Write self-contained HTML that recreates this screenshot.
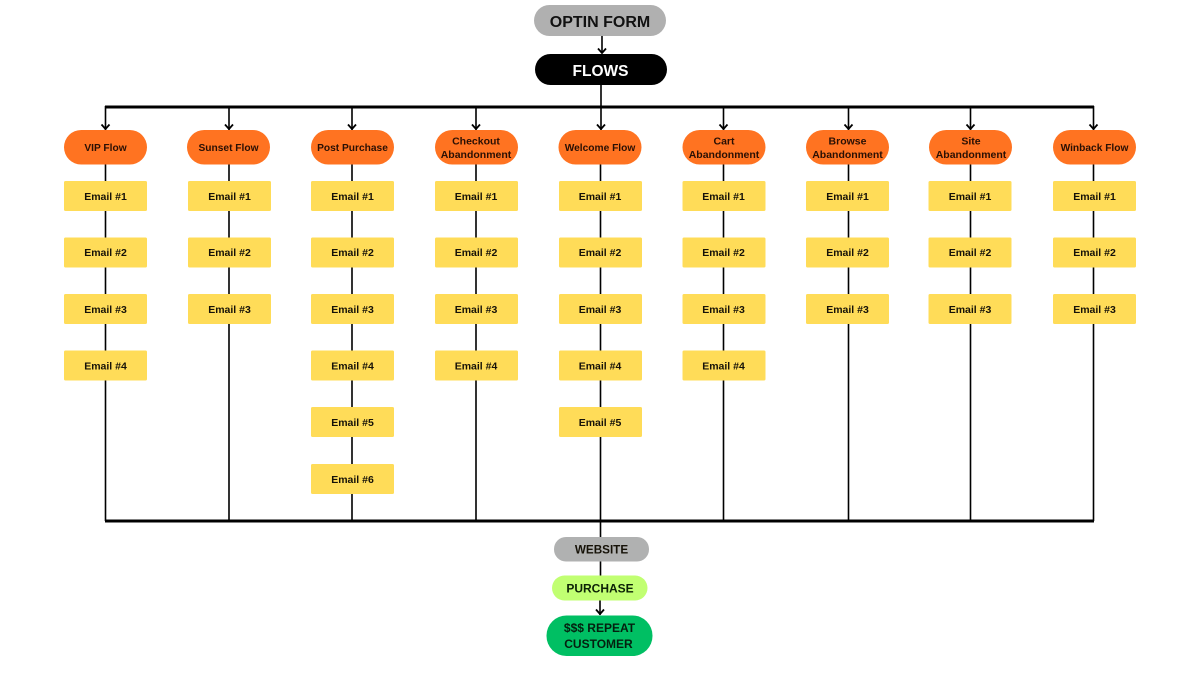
<!DOCTYPE html>
<html>
<head>
<meta charset="utf-8">
<style>
html,body{margin:0;padding:0;background:#fff}
svg{display:block}
text{font-family:"Liberation Sans",sans-serif;font-weight:bold;text-anchor:middle;fill:#161208}
.e{font-size:10.5px}
.f{font-size:10.2px;fill:#2a1004}
.b{font-size:10.5px;fill:#2a1004}
.y{fill:#ffdc58}
.o{fill:#ff7321}
.l{stroke:#000;stroke-width:1.6;fill:none}
.a{stroke:#000;stroke-width:1.8;fill:none}
</style>
</head>
<body>
<svg width="1200" height="675" viewBox="0 0 1200 675" xmlns="http://www.w3.org/2000/svg">
<rect width="1200" height="675" fill="#fff"/>

<!-- main lines -->
<path class="l" d="M602 36V53M601 85V130"/>
<path d="M105 107H1094" stroke="#000" stroke-width="3" fill="none"/>
<path d="M105 521H1094" stroke="#000" stroke-width="3" fill="none"/>
<path class="l" d="M105.500 106V521M229 106V521M352 106V521M476 106V521M600.500 130V600M723.500 106V521M848.500 106V521M970.500 106V521M1093.500 106V521M600 600V615"/>

<!-- arrowheads -->
<path class="a" d="M598 48.500L602 53L606 48.500M597 124.500L601 129L605 124.500M101.500 124.500L105.500 129L109.500 124.500M225 124.500L229 129L233 124.500M348 124.500L352 129L356 124.500M472 124.500L476 129L480 124.500M719.500 124.500L723.500 129L727.500 124.500M844.500 124.500L848.500 129L852.500 124.500M966.500 124.500L970.500 129L974.500 124.500M1089.500 124.500L1093.500 129L1097.500 124.500M596 609.500L600 614L604 609.500"/>

<!-- top nodes -->
<rect x="534" y="5" width="132" height="31" rx="15.500" fill="#b0b0b0"/>
<text x="600" y="27" font-size="16" style="fill:#111">OPTIN FORM</text>
<rect x="535" y="54" width="132" height="31" rx="15.500" fill="#000"/>
<text x="600.500" y="76" font-size="15.500" style="fill:#fff">FLOWS</text>

<!-- flow heads -->
<rect class="o" x="64" y="130" width="83" height="34.500" rx="17.200"/>
<rect class="o" x="187" y="130" width="83" height="34.500" rx="17.200"/>
<rect class="o" x="311" y="130" width="83" height="34.500" rx="17.200"/>
<rect class="o" x="435" y="130" width="83" height="34.500" rx="17.200"/>
<rect class="o" x="558.500" y="130" width="83" height="34.500" rx="17.200"/>
<rect class="o" x="682.500" y="130" width="83" height="34.500" rx="17.200"/>
<rect class="o" x="806" y="130" width="83" height="34.500" rx="17.200"/>
<rect class="o" x="929" y="130" width="83" height="34.500" rx="17.200"/>
<rect class="o" x="1053" y="130" width="83" height="34.500" rx="17.200"/>
<text class="f" x="105.500" y="151">VIP Flow</text>
<text class="f" x="228.500" y="151">Sunset Flow</text>
<text class="f" x="352.500" y="151">Post Purchase</text>
<text class="b" x="476" y="144.500">Checkout</text>
<text class="b" x="476" y="158">Abandonment</text>
<text class="f" x="600" y="151">Welcome Flow</text>
<text class="b" x="724" y="144.500">Cart</text>
<text class="b" x="724" y="158">Abandonment</text>
<text class="b" x="847.500" y="144.500">Browse</text>
<text class="b" x="847.500" y="158">Abandonment</text>
<text class="b" x="971" y="144.500">Site</text>
<text class="b" x="971" y="158">Abandonment</text>
<text class="f" x="1094.500" y="151">Winback Flow</text>

<!-- emails col 1 -->
<g>
<rect class="y" x="64" y="181" width="83" height="30" rx="1.500"/><text class="e" x="105.500" y="200">Email #1</text>
<rect class="y" x="64" y="237.500" width="83" height="30" rx="1.500"/><text class="e" x="105.500" y="256">Email #2</text>
<rect class="y" x="64" y="294" width="83" height="30" rx="1.500"/><text class="e" x="105.500" y="313">Email #3</text>
<rect class="y" x="64" y="350.500" width="83" height="30" rx="1.500"/><text class="e" x="105.500" y="369.500">Email #4</text>
</g>
<!-- col 2 -->
<g>
<rect class="y" x="188" y="181" width="83" height="30" rx="1.500"/><text class="e" x="229.500" y="200">Email #1</text>
<rect class="y" x="188" y="237.500" width="83" height="30" rx="1.500"/><text class="e" x="229.500" y="256">Email #2</text>
<rect class="y" x="188" y="294" width="83" height="30" rx="1.500"/><text class="e" x="229.500" y="313">Email #3</text>
</g>
<!-- col 3 -->
<g>
<rect class="y" x="311" y="181" width="83" height="30" rx="1.500"/><text class="e" x="352.500" y="200">Email #1</text>
<rect class="y" x="311" y="237.500" width="83" height="30" rx="1.500"/><text class="e" x="352.500" y="256">Email #2</text>
<rect class="y" x="311" y="294" width="83" height="30" rx="1.500"/><text class="e" x="352.500" y="313">Email #3</text>
<rect class="y" x="311" y="350.500" width="83" height="30" rx="1.500"/><text class="e" x="352.500" y="369.500">Email #4</text>
<rect class="y" x="311" y="407" width="83" height="30" rx="1.500"/><text class="e" x="352.500" y="426">Email #5</text>
<rect class="y" x="311" y="464" width="83" height="30" rx="1.500"/><text class="e" x="352.500" y="483">Email #6</text>
</g>
<!-- col 4 -->
<g>
<rect class="y" x="435" y="181" width="83" height="30" rx="1.500"/><text class="e" x="476" y="200">Email #1</text>
<rect class="y" x="435" y="237.500" width="83" height="30" rx="1.500"/><text class="e" x="476" y="256">Email #2</text>
<rect class="y" x="435" y="294" width="83" height="30" rx="1.500"/><text class="e" x="476" y="313">Email #3</text>
<rect class="y" x="435" y="350.500" width="83" height="30" rx="1.500"/><text class="e" x="476" y="369.500">Email #4</text>
</g>
<!-- col 5 -->
<g>
<rect class="y" x="559" y="181" width="83" height="30" rx="1.500"/><text class="e" x="600" y="200">Email #1</text>
<rect class="y" x="559" y="237.500" width="83" height="30" rx="1.500"/><text class="e" x="600" y="256">Email #2</text>
<rect class="y" x="559" y="294" width="83" height="30" rx="1.500"/><text class="e" x="600" y="313">Email #3</text>
<rect class="y" x="559" y="350.500" width="83" height="30" rx="1.500"/><text class="e" x="600" y="369.500">Email #4</text>
<rect class="y" x="559" y="407" width="83" height="30" rx="1.500"/><text class="e" x="600" y="426">Email #5</text>
</g>
<!-- col 6 -->
<g>
<rect class="y" x="682.500" y="181" width="83" height="30" rx="1.500"/><text class="e" x="723.500" y="200">Email #1</text>
<rect class="y" x="682.500" y="237.500" width="83" height="30" rx="1.500"/><text class="e" x="723.500" y="256">Email #2</text>
<rect class="y" x="682.500" y="294" width="83" height="30" rx="1.500"/><text class="e" x="723.500" y="313">Email #3</text>
<rect class="y" x="682.500" y="350.500" width="83" height="30" rx="1.500"/><text class="e" x="723.500" y="369.500">Email #4</text>
</g>
<!-- col 7 -->
<g>
<rect class="y" x="806" y="181" width="83" height="30" rx="1.500"/><text class="e" x="847.500" y="200">Email #1</text>
<rect class="y" x="806" y="237.500" width="83" height="30" rx="1.500"/><text class="e" x="847.500" y="256">Email #2</text>
<rect class="y" x="806" y="294" width="83" height="30" rx="1.500"/><text class="e" x="847.500" y="313">Email #3</text>
</g>
<!-- col 8 -->
<g>
<rect class="y" x="928.500" y="181" width="83" height="30" rx="1.500"/><text class="e" x="970" y="200">Email #1</text>
<rect class="y" x="928.500" y="237.500" width="83" height="30" rx="1.500"/><text class="e" x="970" y="256">Email #2</text>
<rect class="y" x="928.500" y="294" width="83" height="30" rx="1.500"/><text class="e" x="970" y="313">Email #3</text>
</g>
<!-- col 9 -->
<g>
<rect class="y" x="1053" y="181" width="83" height="30" rx="1.500"/><text class="e" x="1094.500" y="200">Email #1</text>
<rect class="y" x="1053" y="237.500" width="83" height="30" rx="1.500"/><text class="e" x="1094.500" y="256">Email #2</text>
<rect class="y" x="1053" y="294" width="83" height="30" rx="1.500"/><text class="e" x="1094.500" y="313">Email #3</text>
</g>

<!-- bottom nodes -->
<rect x="554" y="537" width="95" height="24.500" rx="12" fill="#b0b1b1"/>
<text x="601.500" y="553.500" font-size="11.700">WEBSITE</text>
<rect x="552" y="575.500" width="95.500" height="25" rx="12.500" fill="#c1ff72"/>
<text x="600" y="592.500" font-size="12" style="fill:#0c2206">PURCHASE</text>
<rect x="546.500" y="615.500" width="106" height="40.500" rx="20" fill="#00bf63"/>
<text x="599.500" y="632" font-size="12" style="fill:#04200f">$$$ REPEAT</text>
<text x="598.500" y="648" font-size="12" style="fill:#04200f">CUSTOMER</text>
</svg>
</body>
</html>
